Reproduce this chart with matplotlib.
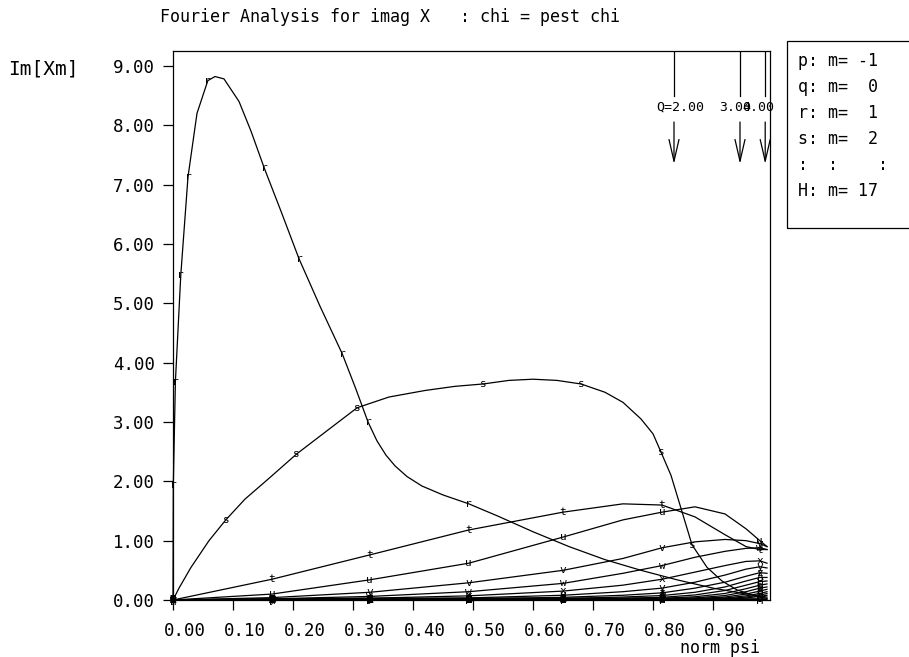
import numpy as np
import matplotlib.pyplot as plt
from matplotlib.transforms import ScaledTranslation

plt.rcParams['font.family'] = 'DejaVu Sans Mono'
plt.rcParams['font.size'] = 12

# curve data (norm psi, Im[Xm])
x_r = [0, 0.0005, 0.004, 0.013, 0.025, 0.04, 0.058, 0.07, 0.085, 0.11, 0.13, 0.152, 0.18, 0.21, 0.245,
       0.282, 0.305, 0.325, 0.34, 0.355, 0.37, 0.39, 0.415, 0.45, 0.493, 0.54, 0.6, 0.66, 0.72,
       0.78, 0.84, 0.9, 0.95, 0.99]
y_r = [0, 1.94, 3.68, 5.48, 7.13, 8.2, 8.75, 8.82, 8.78, 8.4, 7.9, 7.28, 6.55, 5.75, 4.95,
       4.15, 3.55, 3.0, 2.68, 2.44, 2.26, 2.08, 1.92, 1.77, 1.62, 1.42, 1.15, 0.9, 0.68,
       0.5, 0.34, 0.2, 0.11, 0.05]
mk_r = [1, 2, 3, 4, 6, 11, 13, 15, 17, 24]

x_s = [0, 0.01, 0.03, 0.06, 0.088, 0.12, 0.16, 0.206, 0.25, 0.307, 0.36, 0.42, 0.47, 0.517,
       0.56, 0.6, 0.64, 0.68, 0.72, 0.75, 0.78, 0.8, 0.813, 0.83, 0.845, 0.865, 0.89, 0.915,
       0.94, 0.97, 0.99]
y_s = [0, 0.2, 0.55, 1.0, 1.35, 1.7, 2.05, 2.46, 2.8, 3.24, 3.42, 3.53, 3.6, 3.64,
       3.7, 3.72, 3.7, 3.64, 3.5, 3.33, 3.05, 2.8, 2.5, 2.1, 1.6, 0.93, 0.55, 0.32,
       0.17, 0.07, 0.03]
mk_s = [4, 7, 9, 13, 17, 22, 25]

# small harmonics share the same psi grid
x_grid = [0, 0.165, 0.328, 0.493, 0.65, 0.75, 0.815, 0.87, 0.92, 0.955, 0.978, 0.99]
small = {
    't': [0, 0.35, 0.76, 1.18, 1.48, 1.62, 1.6, 1.4, 1.1, 0.9, 0.85, 0.85],
    'u': [0, 0.1, 0.34, 0.62, 1.06, 1.35, 1.48, 1.57, 1.45, 1.2, 1.0, 0.9],
    'v': [0, 0.04, 0.13, 0.29, 0.5, 0.7, 0.88, 0.98, 1.02, 1.0, 0.95, 0.9],
    'w': [0, 0.02, 0.06, 0.14, 0.28, 0.45, 0.58, 0.72, 0.82, 0.87, 0.88, 0.85],
    'x': [0, 0.01, 0.03, 0.07, 0.15, 0.25, 0.35, 0.47, 0.58, 0.65, 0.66, 0.62],
    'y': [0, 0.005, 0.015, 0.035, 0.08, 0.14, 0.2, 0.3, 0.42, 0.52, 0.56, 0.54],
    'z': [0, 0.003, 0.008, 0.02, 0.045, 0.08, 0.12, 0.2, 0.3, 0.4, 0.46, 0.45],
    'A': [0, 0.002, 0.005, 0.012, 0.025, 0.05, 0.075, 0.13, 0.22, 0.32, 0.38, 0.38],
    'B': [0, 0.001, 0.003, 0.007, 0.015, 0.03, 0.045, 0.085, 0.16, 0.25, 0.31, 0.32],
    'C': [0, 0, 0.002, 0.004, 0.009, 0.018, 0.028, 0.055, 0.11, 0.19, 0.25, 0.27],
    'D': [0, 0, 0.001, 0.002, 0.005, 0.01, 0.017, 0.035, 0.075, 0.14, 0.2, 0.22],
    'E': [0, 0, 0, 0.001, 0.003, 0.006, 0.01, 0.022, 0.05, 0.1, 0.15, 0.18],
    'F': [0, 0, 0, 0, 0.002, 0.003, 0.006, 0.014, 0.033, 0.07, 0.11, 0.14],
    'G': [0, 0, 0, 0, 0.001, 0.002, 0.003, 0.008, 0.02, 0.05, 0.08, 0.11],
    'H': [0, 0, 0, 0, 0, 0.001, 0.002, 0.005, 0.012, 0.035, 0.06, 0.08],
    'q': [0, 0.02, 0.03, 0.03, 0.03, 0.03, 0.03, 0.03, 0.03, 0.02, 0.02, 0.02],
    'p': [0, 0.01, 0.01, 0.01, 0.01, 0.01, 0.01, 0.01, 0.01, 0.01, 0.01, 0.01],
}
mk_grid = [0, 1, 2, 3, 4, 6, 10]

q_pos = [0.835, 0.945, 0.987]
q_lab = ['Q=2.00', '3.00', '4.00']
q_shift = [6, -5, -7]  # px, label offset from its arrow

legend_rows = ['p: m= -1', 'q: m=  0', 'r: m=  1', 's: m=  2', ':  :    :', 'H: m= 17']

fig = plt.figure(figsize=(9.09, 6.57), dpi=100)
ax = fig.add_axes([173 / 909, 1 - 600 / 657, 597 / 909, 549 / 657])
ax.set_xlim(0, 0.995)
ax.set_ylim(0, 9.25)


def draw(letter, xs, ys, idx):
    ax.plot(xs, ys, color='black', lw=0.9, clip_on=False)
    for i in idx:
        ax.text(xs[i], ys[i], letter, ha='center', va='center', fontsize=8, clip_on=False)


draw('r', x_r, y_r, mk_r)
draw('s', x_s, y_s, mk_s)
for k, v in small.items():
    draw(k, x_grid, v, mk_grid)

# rational surface arrows
for xq, lab, dx in zip(q_pos, q_lab, q_shift):
    ax.plot([xq, xq], [9.25, 8.5], color='black', lw=0.9)
    ax.annotate('', xy=(xq, 7.3), xytext=(xq, 8.1),
                arrowprops=dict(arrowstyle='->,head_length=1.3,head_width=0.3', color='black', lw=0.9))
    t = ax.text(xq, 8.3, lab, ha='center', va='center', fontsize=9.5)
    t.set_transform(t.get_transform() + ScaledTranslation(dx / 100, 0, fig.dpi_scale_trans))

ax.set_xticks(np.arange(0, 0.95, 0.1))
ax.set_xticklabels(['%.2f' % t for t in np.arange(0, 0.95, 0.1)])
ax.set_yticks(np.arange(0, 9.5, 1.0))
ax.set_yticklabels(['%.2f' % t for t in np.arange(0, 9.5, 1.0)])
ax.tick_params(direction='out', length=7, width=0.9, pad=6, labelsize=12.5)
ax.tick_params(axis='x', pad=9)
for lbl in ax.get_xticklabels():
    lbl.set_transform(lbl.get_transform() + ScaledTranslation(12 / 100, 0, fig.dpi_scale_trans))
for sp in ax.spines.values():
    sp.set_linewidth(0.9)

fig.text(160 / 909, 1 - 17 / 657, 'Fourier Analysis for imag X   : chi = pest chi', va='center', fontsize=12)
fig.text(8 / 909, 1 - 69 / 657, 'Im[Xm]', va='center', fontsize=14)
fig.text(720 / 909, 1 - 648 / 657, 'norm psi', va='center', ha='center', fontsize=12)

box = plt.Rectangle((787 / 909, 1 - 228 / 657), 0.2, 187 / 657, transform=fig.transFigure,
                    fill=False, color='black', lw=0.9)
fig.patches.append(box)
for i, row in enumerate(legend_rows):
    fig.text(798 / 909, 1 - (61 + i * 26) / 657, row, va='center', fontsize=12)

fig.savefig('out.png', dpi=100)
